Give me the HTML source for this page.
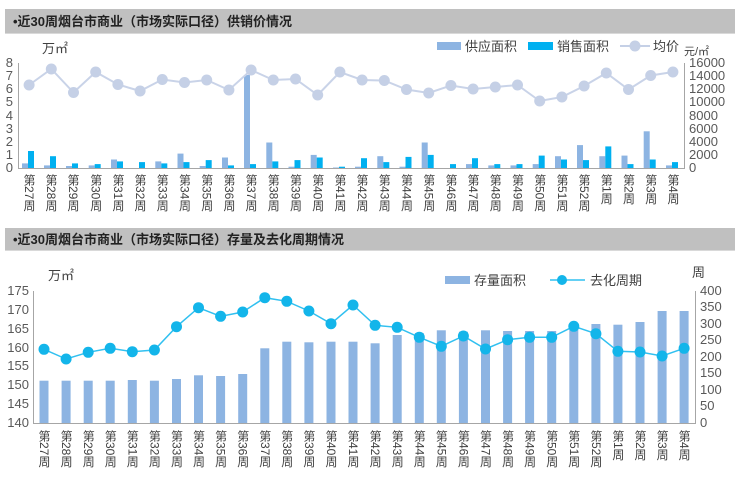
<!DOCTYPE html>
<html><head><meta charset="utf-8"><style>
body{margin:0;width:740px;height:472px;background:#fff;overflow:hidden;position:relative;font-family:"Liberation Sans","Noto Sans CJK SC",sans-serif;}
.l{position:absolute;top:0;writing-mode:vertical-rl;white-space:nowrap;height:60px;width:12px;font-size:12px;line-height:12px;color:#404040;}
.t{position:absolute;background:#c0c0c0;border-bottom:1px solid #d9d9d9;font-weight:bold;font-size:13px;color:#222;box-sizing:border-box;padding-left:8px;}
.c{position:absolute;left:0;width:740px;height:60px;}
</style></head><body>
<div class="t" style="left:5px;top:9px;width:730px;height:25px;line-height:25px;">•近30周烟台市商业（市场实际口径）供销价情况</div>
<div class="t" style="left:5px;top:228px;width:730px;height:23px;line-height:23px;">•近30周烟台市商业（市场实际口径）存量及去化周期情况</div>
<svg width="740" height="472" style="position:absolute;left:0;top:0" font-family="Liberation Sans, Noto Sans CJK SC, sans-serif">
<g font-size="13" fill="#404040">
<text x="42" y="53">万㎡</text>
<text x="684" y="55" font-size="11">元/㎡</text>
<rect x="437" y="42" width="24" height="8" fill="#8db4e2"/><text x="465" y="51">供应面积</text>
<rect x="528" y="42" width="25" height="8" fill="#00b0f0"/><text x="557" y="51">销售面积</text>
<line x1="620" y1="46" x2="650" y2="46" stroke="#c5d0e6" stroke-width="2"/><circle cx="635" cy="46" r="5.5" fill="#c5d0e6"/><text x="653" y="51">均价</text>
</g>
<g font-size="13" fill="#595959" text-anchor="end">
<text x="13" y="172">0</text><text x="13" y="159">1</text><text x="13" y="146">2</text><text x="13" y="133">3</text><text x="13" y="120">4</text><text x="13" y="106">5</text><text x="13" y="93">6</text><text x="13" y="80">7</text><text x="13" y="67">8</text>
</g>
<g font-size="13" fill="#595959">
<text x="689" y="172">0</text><text x="689" y="159">2000</text><text x="689" y="146">4000</text><text x="689" y="133">6000</text><text x="689" y="120">8000</text><text x="689" y="106">10000</text><text x="689" y="93">12000</text><text x="689" y="80">14000</text><text x="689" y="67">16000</text>
</g>
<g stroke="#a6a6a6" stroke-width="1">
<line x1="18.5" y1="63" x2="18.5" y2="168"/><line x1="684.5" y1="63" x2="684.5" y2="168"/>
<line x1="18" y1="168.5" x2="685" y2="168.5"/>
</g>
<g transform="translate(0,168) scale(1,-1)">
<g fill="#8db4e2">
<rect x="22" width="6" height="4.6"/><rect x="44" width="6" height="2.6"/><rect x="66" width="6" height="2"/><rect x="88.7" width="6" height="2.6"/><rect x="111" width="6" height="8.5"/><rect x="133" width="6" height="0"/><rect x="155.3" width="6" height="6.6"/><rect x="177.5" width="6" height="14.4"/><rect x="199.7" width="6" height="2"/><rect x="222" width="6" height="10.5"/><rect x="244" width="6" height="93"/><rect x="266.3" width="6" height="25.5"/><rect x="288.5" width="6" height="1.3"/><rect x="310.7" width="6" height="13.1"/><rect x="333" width="6" height="0.5"/><rect x="355" width="6" height="1.3"/><rect x="377.3" width="6" height="11.8"/><rect x="399.5" width="6" height="1.3"/><rect x="421.7" width="6" height="25.5"/><rect x="444" width="6" height="0"/><rect x="466" width="6" height="3.9"/><rect x="488.3" width="6" height="2.6"/><rect x="510.5" width="6" height="2.6"/><rect x="532.7" width="6" height="3.9"/><rect x="555" width="6" height="11.8"/><rect x="577" width="6" height="22.9"/><rect x="599.3" width="6" height="11.8"/><rect x="621.5" width="6" height="12.4"/><rect x="643.7" width="6" height="36.7"/><rect x="666" width="6" height="2.6"/>
</g>
<g fill="#00b0f0">
<rect x="28" width="6" height="17"/><rect x="50" width="6" height="11.8"/><rect x="72" width="6" height="4.6"/><rect x="94.7" width="6" height="3.9"/><rect x="117" width="6" height="6.6"/><rect x="139" width="6" height="5.9"/><rect x="161.3" width="6" height="4.6"/><rect x="183.5" width="6" height="5.9"/><rect x="205.7" width="6" height="7.9"/><rect x="228" width="6" height="2.6"/><rect x="250" width="6" height="3.9"/><rect x="272.3" width="6" height="6.6"/><rect x="294.5" width="6" height="7.9"/><rect x="316.7" width="6" height="10.5"/><rect x="339" width="6" height="1.3"/><rect x="361" width="6" height="9.8"/><rect x="383.3" width="6" height="5.9"/><rect x="405.5" width="6" height="11.1"/><rect x="427.7" width="6" height="13.1"/><rect x="450" width="6" height="3.9"/><rect x="472" width="6" height="9.8"/><rect x="494.3" width="6" height="3.9"/><rect x="516.5" width="6" height="3.9"/><rect x="538.7" width="6" height="12.4"/><rect x="561" width="6" height="8.5"/><rect x="583" width="6" height="7.9"/><rect x="605.3" width="6" height="21.6"/><rect x="627.5" width="6" height="3.9"/><rect x="649.7" width="6" height="8.5"/><rect x="672" width="6" height="5.9"/>
</g></g>
<polyline fill="none" stroke="#c9d3e8" stroke-width="2" points="29.1,85 51.3,69 73.5,92.5 95.7,72 117.9,84.5 140.1,91 162.3,79.5 184.5,82.5 206.7,80 228.9,90 251.1,70 273.3,80 295.5,79 317.7,95 339.9,72 362.1,80 384.3,80.5 406.5,89.5 428.7,93 450.9,85.5 473.1,89 495.3,87 517.5,85 539.7,101 561.9,97 584.1,86 606.3,73 628.5,89.5 650.7,75.5 672.9,72"/>
<g fill="#c5d0e6">
<circle cx="29.1" cy="85" r="5.5"/><circle cx="51.3" cy="69" r="5.5"/><circle cx="73.5" cy="92.5" r="5.5"/><circle cx="95.7" cy="72" r="5.5"/><circle cx="117.9" cy="84.5" r="5.5"/><circle cx="140.1" cy="91" r="5.5"/><circle cx="162.3" cy="79.5" r="5.5"/><circle cx="184.5" cy="82.5" r="5.5"/><circle cx="206.7" cy="80" r="5.5"/><circle cx="228.9" cy="90" r="5.5"/><circle cx="251.1" cy="70" r="5.5"/><circle cx="273.3" cy="80" r="5.5"/><circle cx="295.5" cy="79" r="5.5"/><circle cx="317.7" cy="95" r="5.5"/><circle cx="339.9" cy="72" r="5.5"/><circle cx="362.1" cy="80" r="5.5"/><circle cx="384.3" cy="80.5" r="5.5"/><circle cx="406.5" cy="89.5" r="5.5"/><circle cx="428.7" cy="93" r="5.5"/><circle cx="450.9" cy="85.5" r="5.5"/><circle cx="473.1" cy="89" r="5.5"/><circle cx="495.3" cy="87" r="5.5"/><circle cx="517.5" cy="85" r="5.5"/><circle cx="539.7" cy="101" r="5.5"/><circle cx="561.9" cy="97" r="5.5"/><circle cx="584.1" cy="86" r="5.5"/><circle cx="606.3" cy="73" r="5.5"/><circle cx="628.5" cy="89.5" r="5.5"/><circle cx="650.7" cy="75.5" r="5.5"/><circle cx="672.9" cy="72" r="5.5"/>
</g>

<g font-size="13" fill="#404040">
<text x="48" y="280">万㎡</text>
<text x="692" y="277">周</text>
<rect x="445" y="276" width="25" height="8" fill="#8db4e2"/><text x="474" y="285">存量面积</text>
<line x1="550" y1="280" x2="585" y2="280" stroke="#31c0f0" stroke-width="1.5"/><circle cx="562" cy="280" r="5" fill="#13b5ea"/><text x="590" y="285">去化周期</text>
</g>
<g font-size="13" fill="#595959" text-anchor="end">
<text x="29" y="427">140</text><text x="29" y="408">145</text><text x="29" y="389">150</text><text x="29" y="370">155</text><text x="29" y="352">160</text><text x="29" y="333">165</text><text x="29" y="314">170</text><text x="29" y="295">175</text>
</g>
<g font-size="13" fill="#595959">
<text x="700" y="427">0</text><text x="700" y="410">50</text><text x="700" y="394">100</text><text x="700" y="377">150</text><text x="700" y="361">200</text><text x="700" y="344">250</text><text x="700" y="328">300</text><text x="700" y="311">350</text><text x="700" y="295">400</text>
</g>
<g stroke="#a6a6a6" stroke-width="1">
<line x1="33.5" y1="291" x2="33.5" y2="423"/><line x1="695.5" y1="291" x2="695.5" y2="423"/>
<line x1="33" y1="423.5" x2="696" y2="423.5"/>
</g>
<g transform="translate(0,423) scale(1,-1)" fill="#8db4e2">
<rect x="39.5" width="9" height="42.3"/><rect x="61.6" width="9" height="42.3"/><rect x="83.7" width="9" height="42.3"/><rect x="105.7" width="9" height="42.3"/><rect x="127.8" width="9" height="43"/><rect x="149.9" width="9" height="42.3"/><rect x="172" width="9" height="44"/><rect x="194" width="9" height="47.7"/><rect x="216.1" width="9" height="47"/><rect x="238.2" width="9" height="49"/><rect x="260.3" width="9" height="74.7"/><rect x="282.3" width="9" height="81.3"/><rect x="304.4" width="9" height="80.7"/><rect x="326.5" width="9" height="81.3"/><rect x="348.5" width="9" height="81.3"/><rect x="370.6" width="9" height="79.7"/><rect x="392.7" width="9" height="88"/><rect x="414.8" width="9" height="90"/><rect x="436.8" width="9" height="92.7"/><rect x="458.9" width="9" height="91.3"/><rect x="481" width="9" height="92.7"/><rect x="503.1" width="9" height="92"/><rect x="525.1" width="9" height="92"/><rect x="547.2" width="9" height="92"/><rect x="569.3" width="9" height="95"/><rect x="591.4" width="9" height="99"/><rect x="613.4" width="9" height="98.3"/><rect x="635.5" width="9" height="101"/><rect x="657.6" width="9" height="112"/><rect x="679.6" width="9" height="112"/>
</g>
<polyline fill="none" stroke="#31c0f0" stroke-width="1.5" points="44,349.3 66.1,359 88.2,352.3 110.2,348.3 132.3,351.7 154.4,350 176.5,326.7 198.5,307.7 220.6,316.3 242.7,312 264.8,297.7 286.8,301.3 308.9,311 331,323.7 353,305 375.1,325.3 397.2,327.3 419.3,337.3 441.3,346.3 463.4,336 485.5,349 507.6,339.7 529.6,337.3 551.7,337.3 573.8,326.3 595.9,333.7 617.9,351.3 640,352 662.1,356 684.1,348.3"/>
<g fill="#13b5ea">
<circle cx="44" cy="349.3" r="5.5"/><circle cx="66.1" cy="359" r="5.5"/><circle cx="88.2" cy="352.3" r="5.5"/><circle cx="110.2" cy="348.3" r="5.5"/><circle cx="132.3" cy="351.7" r="5.5"/><circle cx="154.4" cy="350" r="5.5"/><circle cx="176.5" cy="326.7" r="5.5"/><circle cx="198.5" cy="307.7" r="5.5"/><circle cx="220.6" cy="316.3" r="5.5"/><circle cx="242.7" cy="312" r="5.5"/><circle cx="264.8" cy="297.7" r="5.5"/><circle cx="286.8" cy="301.3" r="5.5"/><circle cx="308.9" cy="311" r="5.5"/><circle cx="331" cy="323.7" r="5.5"/><circle cx="353" cy="305" r="5.5"/><circle cx="375.1" cy="325.3" r="5.5"/><circle cx="397.2" cy="327.3" r="5.5"/><circle cx="419.3" cy="337.3" r="5.5"/><circle cx="441.3" cy="346.3" r="5.5"/><circle cx="463.4" cy="336" r="5.5"/><circle cx="485.5" cy="349" r="5.5"/><circle cx="507.6" cy="339.7" r="5.5"/><circle cx="529.6" cy="337.3" r="5.5"/><circle cx="551.7" cy="337.3" r="5.5"/><circle cx="573.8" cy="326.3" r="5.5"/><circle cx="595.9" cy="333.7" r="5.5"/><circle cx="617.9" cy="351.3" r="5.5"/><circle cx="640" cy="352" r="5.5"/><circle cx="662.1" cy="356" r="5.5"/><circle cx="684.1" cy="348.3" r="5.5"/>
</g>
</svg>
<div class="c" style="top:174px;">
<div class="l" style="left:23px">第27周</div><div class="l" style="left:45px">第28周</div><div class="l" style="left:67px">第29周</div><div class="l" style="left:89.7px">第30周</div><div class="l" style="left:112px">第31周</div><div class="l" style="left:134px">第32周</div><div class="l" style="left:156.3px">第33周</div><div class="l" style="left:178.5px">第34周</div><div class="l" style="left:200.7px">第35周</div><div class="l" style="left:223px">第36周</div><div class="l" style="left:245px">第37周</div><div class="l" style="left:267.3px">第38周</div><div class="l" style="left:289.5px">第39周</div><div class="l" style="left:311.7px">第40周</div><div class="l" style="left:334px">第41周</div><div class="l" style="left:356px">第42周</div><div class="l" style="left:378.3px">第43周</div><div class="l" style="left:400.5px">第44周</div><div class="l" style="left:422.7px">第45周</div><div class="l" style="left:445px">第46周</div><div class="l" style="left:467px">第47周</div><div class="l" style="left:489.3px">第48周</div><div class="l" style="left:511.5px">第49周</div><div class="l" style="left:533.7px">第50周</div><div class="l" style="left:556px">第51周</div><div class="l" style="left:578px">第52周</div><div class="l" style="left:600.3px">第1周</div><div class="l" style="left:622.5px">第2周</div><div class="l" style="left:644.7px">第3周</div><div class="l" style="left:667px">第4周</div>
</div>
<div class="c" style="top:430px;">
<div class="l" style="left:38px">第27周</div><div class="l" style="left:60.1px">第28周</div><div class="l" style="left:82.2px">第29周</div><div class="l" style="left:104.2px">第30周</div><div class="l" style="left:126.3px">第31周</div><div class="l" style="left:148.4px">第32周</div><div class="l" style="left:170.5px">第33周</div><div class="l" style="left:192.5px">第34周</div><div class="l" style="left:214.6px">第35周</div><div class="l" style="left:236.7px">第36周</div><div class="l" style="left:258.8px">第37周</div><div class="l" style="left:280.8px">第38周</div><div class="l" style="left:302.9px">第39周</div><div class="l" style="left:325px">第40周</div><div class="l" style="left:347px">第41周</div><div class="l" style="left:369.1px">第42周</div><div class="l" style="left:391.2px">第43周</div><div class="l" style="left:413.3px">第44周</div><div class="l" style="left:435.3px">第45周</div><div class="l" style="left:457.4px">第46周</div><div class="l" style="left:479.5px">第47周</div><div class="l" style="left:501.6px">第48周</div><div class="l" style="left:523.6px">第49周</div><div class="l" style="left:545.7px">第50周</div><div class="l" style="left:567.8px">第51周</div><div class="l" style="left:589.9px">第52周</div><div class="l" style="left:611.9px">第1周</div><div class="l" style="left:634px">第2周</div><div class="l" style="left:656.1px">第3周</div><div class="l" style="left:678.1px">第4周</div>
</div>
</body></html>
